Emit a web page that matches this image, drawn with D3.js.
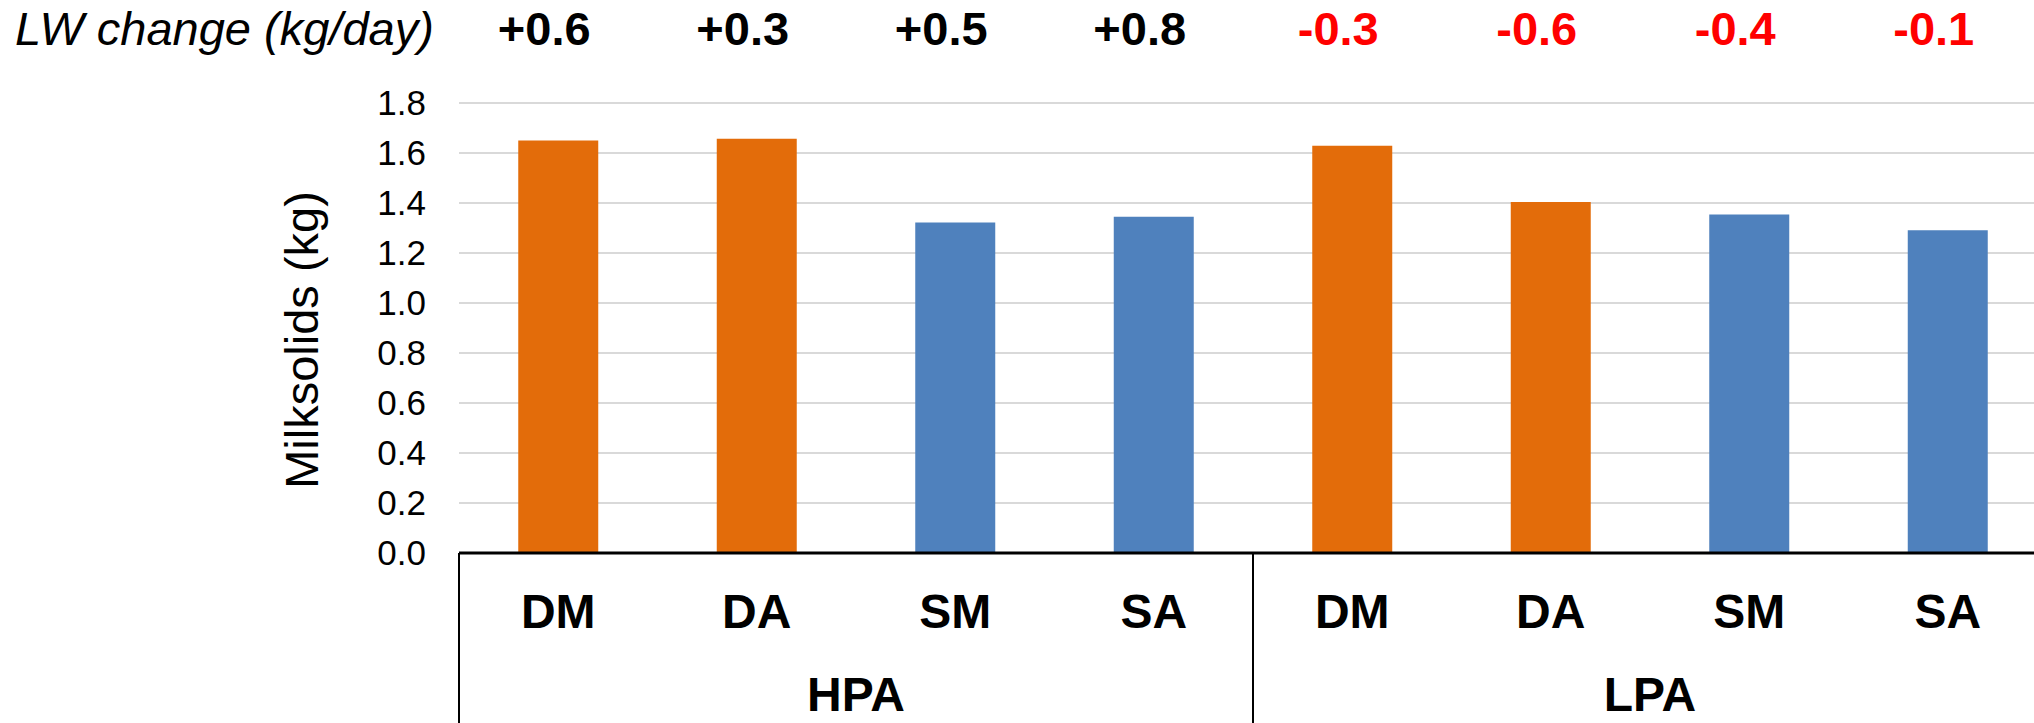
<!DOCTYPE html>
<html>
<head>
<meta charset="utf-8">
<script src="https://cdn.jsdelivr.net/npm/d3@7"></script>
<style>
  body { margin: 0; background: #fff; }
  text { font-family: "Liberation Sans", Arial, sans-serif; }
</style>
</head>
<body>
<div id="chart"></div>
<script>
// data
const groups = ['HPA', 'LPA'];
const treatments = ['DM', 'DA', 'SM', 'SA'];
const milksolids = [1.65, 1.657, 1.322, 1.345, 1.629, 1.404, 1.354, 1.291];
const lwChange = ['+0.6', '+0.3', '+0.5', '+0.8', '-0.3', '-0.6', '-0.4', '-0.1'];
const yTicks = [0, 0.2, 0.4, 0.6, 0.8, 1.0, 1.2, 1.4, 1.6, 1.8];

const width = 2034, height = 723;
const plot = { left: 459, right: 2047, top: 103, bottom: 553 };

const rows = [];
groups.forEach((g, gi) => treatments.forEach((t, ti) => {
    const i = gi * treatments.length + ti;
    rows.push({ key: g + '-' + t, group: g, treat: t, value: milksolids[i], lw: lwChange[i] });
}));

const svg = d3.select('#chart').append('svg')
    .attr('width', width)
    .attr('height', height);

const x = d3.scaleBand()
    .domain(rows.map(d => d.key))
    .range([plot.left, plot.right])
    .paddingInner(0.597)
    .paddingOuter(0.2985);

const y = d3.scaleLinear().domain([0, 1.8]).range([plot.bottom, plot.top]);

// gridlines
svg.append('g')
    .selectAll('line')
    .data(yTicks.slice(1))
    .join('line')
    .attr('x1', plot.left)
    .attr('x2', plot.right)
    .attr('y1', d => y(d))
    .attr('y2', d => y(d))
    .attr('stroke', '#d9d9d9')
    .attr('stroke-width', 2);

// y axis labels
const yAxis = d3.axisLeft(y).tickValues(yTicks).tickFormat(d3.format('.1f')).tickSize(0).tickPadding(33);
const yg = svg.append('g').attr('transform', `translate(${plot.left},0)`).call(yAxis);
yg.select('.domain').remove();
yg.selectAll('text')
    .attr('font-size', 35)
    .attr('font-family', '"Liberation Sans", Arial, sans-serif')
    .attr('fill', '#000');

svg.append('text')
    .attr('transform', 'translate(318,340) rotate(-90)')
    .attr('text-anchor', 'middle')
    .attr('font-size', 47)
    .text('Milksolids (kg)');

// bars
const color = t => t.startsWith('D') ? '#e36c0a' : '#4f81bd';
svg.append('g')
    .selectAll('rect')
    .data(rows)
    .join('rect')
    .attr('x', d => x(d.key))
    .attr('y', d => y(d.value))
    .attr('width', x.bandwidth())
    .attr('height', d => y(0) - y(d.value))
    .attr('fill', d => color(d.treat));

// category axis
svg.append('line')
    .attr('x1', plot.left).attr('x2', plot.right)
    .attr('y1', plot.bottom).attr('y2', plot.bottom)
    .attr('stroke', '#000').attr('stroke-width', 3);

const step = x.step();
svg.append('g')
    .selectAll('line')
    .data(d3.range(groups.length + 1))
    .join('line')
    .attr('x1', i => plot.left + i * treatments.length * step)
    .attr('x2', i => plot.left + i * treatments.length * step)
    .attr('y1', plot.bottom)
    .attr('y2', height)
    .attr('stroke', '#000')
    .attr('stroke-width', 2);

svg.append('g')
    .selectAll('text')
    .data(rows)
    .join('text')
    .attr('x', d => x(d.key) + x.bandwidth() / 2)
    .attr('y', 628)
    .attr('text-anchor', 'middle')
    .attr('font-size', 48)
    .attr('font-weight', 'bold')
    .text(d => d.treat);

svg.append('g')
    .selectAll('text')
    .data(groups)
    .join('text')
    .attr('x', (g, i) => plot.left + (i + 0.5) * treatments.length * step)
    .attr('y', 711)
    .attr('text-anchor', 'middle')
    .attr('font-size', 48)
    .attr('font-weight', 'bold')
    .text(g => g);

// live weight change row
svg.append('text')
    .attr('x', 15)
    .attr('y', 45)
    .attr('font-size', 47)
    .attr('font-style', 'italic')
    .text('LW change (kg/day)');

svg.append('g')
    .selectAll('text')
    .data(rows)
    .join('text')
    .attr('x', d => x(d.key) + x.bandwidth() / 2 - 14)
    .attr('y', 45)
    .attr('text-anchor', 'middle')
    .attr('font-size', 47)
    .attr('font-weight', 'bold')
    .attr('fill', d => d.lw.startsWith('-') ? '#ff0000' : '#000')
    .text(d => d.lw);
</script>
</body>
</html>
